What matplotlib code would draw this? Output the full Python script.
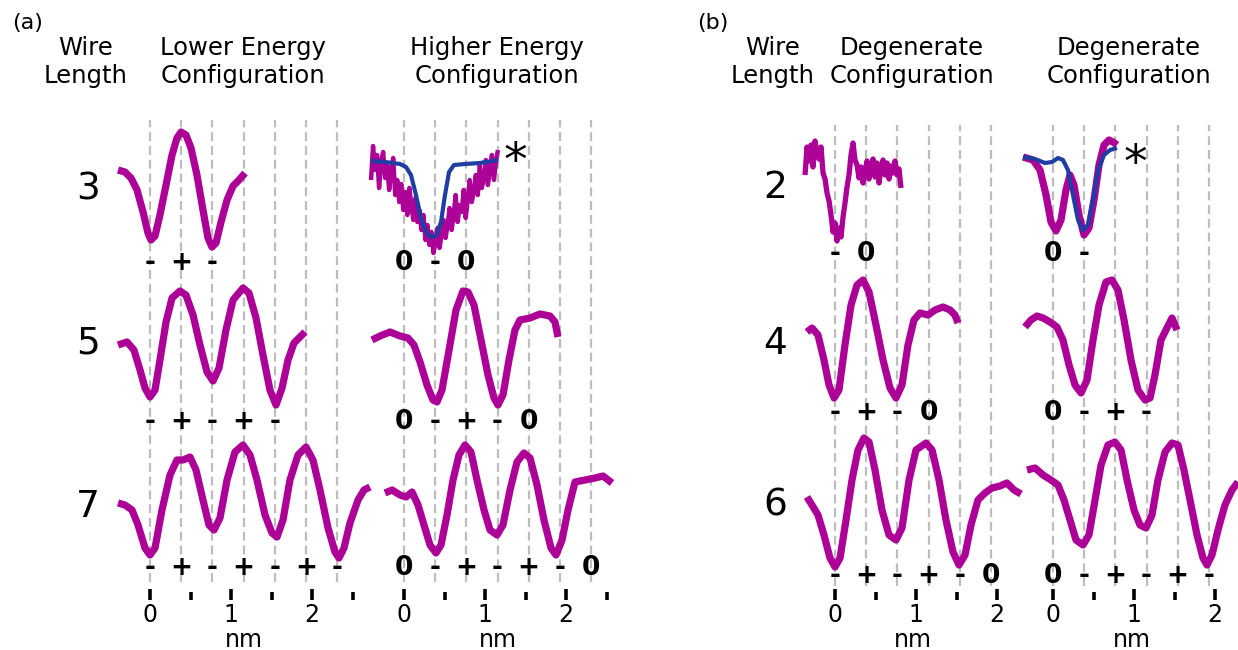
import numpy as np
import matplotlib
matplotlib.use("Agg")
import matplotlib.pyplot as plt

plt.rcParams['font.family'] = ['DejaVu Sans']

# ---------------- data (x in nm, y = profile height, a.u.) ----------------
# Panel (a), lower-energy configurations
a_low3_x = [-0.395, -0.309, -0.235, -0.160, -0.086, -0.025, 0.012, 0.062, 0.123, 0.198, 0.272, 0.333, 0.383,
            0.444, 0.506, 0.580, 0.654, 0.716, 0.765, 0.815, 0.877, 0.951, 1.025, 1.099, 1.173]
a_low3_y = [80, 78, 72, 60, 38, 17, 10, 14, 35, 65, 95, 112, 118, 115, 102, 75, 40, 12, 3, 7, 28, 50, 64, 70, 77]

a_low5_x = [-0.395, -0.284, -0.198, -0.123, -0.062, 0.0, 0.062, 0.123, 0.198, 0.272, 0.370, 0.444, 0.531, 0.617,
            0.704, 0.778, 0.852, 0.938, 1.025, 1.148, 1.222, 1.309, 1.395, 1.481, 1.556, 1.630, 1.704, 1.778,
            1.852, 1.914]
a_low5_y = [65, 68, 60, 40, 22, 13, 20, 50, 88, 112, 119, 115, 95, 65, 38, 29, 42, 80, 110, 122, 117, 92, 55, 20,
            5, 22, 50, 67, 73, 78]

a_low7_x = [-0.395, -0.309, -0.222, -0.148, -0.062, 0.0, 0.062, 0.148, 0.247, 0.333, 0.407, 0.494, 0.568, 0.654,
            0.728, 0.790, 0.864, 0.951, 1.049, 1.148, 1.235, 1.321, 1.420, 1.506, 1.568, 1.642, 1.728, 1.827,
            1.926, 2.012, 2.099, 2.198, 2.284, 2.333, 2.395, 2.469, 2.568, 2.642, 2.716]
a_low7_y = [57, 55, 50, 35, 12, 5, 12, 50, 85, 100, 100, 103, 90, 60, 35, 30, 42, 80, 108, 115, 105, 80, 45, 27,
            23, 40, 80, 105, 113, 100, 70, 32, 8, 2, 12, 37, 60, 70, 73]

# Panel (a), higher-energy configurations
a_high3_y = [70, 104, 80, 95, 62, 88, 98, 72, 85, 60, 78, 92, 55, 70, 48, 66, 40, 58, 35, 62, 45, 30, 52, 28, 40,
             20, 35, 10, 25, 5, 18, -3, 8, 22, 2, 15, 30, 12, 25, 42, 20, 35, 55, 28, 45, 38, 60, 32, 50, 70, 48,
             58, 75, 55, 85, 62, 72, 90, 65, 80, 95, 70, 88, 100]
a_high3_xrange = (-0.407, 1.160)
a_high3_fit_x = [-0.407, -0.235, -0.049, 0.025, 0.086, 0.148, 0.210, 0.272, 0.333, 0.395, 0.457, 0.506, 0.556,
                 0.617, 0.753, 0.938, 1.160]
a_high3_fit_y = [89, 88, 86, 83, 75, 55, 32, 18, 13, 14, 28, 55, 78, 85, 86, 87, 90]

a_high5_x = [-0.395, -0.296, -0.173, -0.049, 0.049, 0.123, 0.198, 0.284, 0.358, 0.407, 0.469, 0.556, 0.642, 0.728,
             0.790, 0.864, 0.951, 1.037, 1.111, 1.160, 1.222, 1.296, 1.370, 1.432, 1.556, 1.679, 1.802, 1.864,
             1.901]
a_high5_y = [70, 74, 78, 74, 72, 65, 48, 25, 10, 8, 20, 60, 100, 119, 118, 105, 70, 35, 12, 5, 15, 50, 80, 90, 92,
             96, 94, 88, 73]

a_high7_x = [-0.235, -0.148, -0.049, 0.025, 0.099, 0.173, 0.247, 0.321, 0.395, 0.457, 0.531, 0.605, 0.679, 0.753,
             0.827, 0.901, 0.988, 1.062, 1.148, 1.222, 1.309, 1.395, 1.481, 1.556, 1.642, 1.728, 1.815, 1.877,
             1.951, 2.025, 2.111, 2.235, 2.358, 2.457, 2.568]
a_high7_y = [67, 70, 65, 63, 68, 55, 35, 15, 7, 15, 45, 80, 105, 115, 108, 80, 50, 30, 25, 35, 70, 98, 107, 102,
             75, 40, 12, 5, 20, 50, 78, 80, 82, 84, 77]

# Panel (b), degenerate configurations (left column)
b_l2_y = [70, 98, 84, 100, 78, 104, 92, 86, 98, 72, 66, 52, 44, 30, 13, 22, 4, 17, 8, 28, 42, 58, 70, 90, 102,
          85, 80, 67, 78, 62, 74, 84, 66, 78, 86, 68, 82, 62, 77, 85, 70, 82, 66, 79, 72, 84, 70, 76, 57]
b_l2_xrange = (-0.370, 0.815)

b_l4_x = [-0.346, -0.284, -0.210, -0.136, -0.074, -0.012, 0.049, 0.123, 0.198, 0.272, 0.346, 0.420, 0.506, 0.593,
          0.679, 0.753, 0.827, 0.901, 0.975, 1.049, 1.148, 1.235, 1.333, 1.420, 1.481, 1.519]
b_l4_y = [73, 77, 70, 45, 20, 7, 15, 60, 100, 120, 125, 113, 80, 45, 17, 7, 20, 60, 85, 92, 90, 95, 98, 95, 90, 82]

b_l6_x = [-0.346, -0.284, -0.210, -0.136, -0.062, 0.0, 0.062, 0.136, 0.210, 0.284, 0.358, 0.420, 0.494, 0.580,
          0.667, 0.753, 0.827, 0.914, 1.000, 1.123, 1.198, 1.284, 1.370, 1.457, 1.531, 1.605, 1.679, 1.765,
          1.852, 1.938, 2.037, 2.123, 2.210, 2.296]
b_l6_y = [73, 65, 55, 35, 12, 3, 12, 50, 90, 120, 132, 128, 100, 60, 35, 30, 42, 90, 120, 127, 120, 90, 50, 18, 5,
          15, 45, 70, 77, 82, 84, 87, 80, 76]

# Panel (b), degenerate configurations (right column)
b_r2_x = [-0.370, -0.247, -0.160, -0.086, -0.025, 0.037, 0.099, 0.160, 0.210, 0.259, 0.321, 0.383, 0.444, 0.506,
          0.568, 0.630, 0.691, 0.741, 0.790]
b_r2_y = [88, 85, 75, 50, 23, 14, 25, 55, 70, 60, 30, 10, 17, 45, 80, 100, 105, 103, 100]
b_r2_fit_x = [-0.370, -0.222, -0.099, -0.012, 0.062, 0.123, 0.185, 0.247, 0.309, 0.370, 0.432, 0.494, 0.556,
              0.630, 0.704, 0.790]
b_r2_fit_y = [88, 86, 82, 83, 87, 85, 75, 50, 25, 15, 20, 45, 75, 90, 95, 97]

b_r4_x = [-0.346, -0.272, -0.198, -0.123, -0.037, 0.049, 0.123, 0.198, 0.272, 0.346, 0.420, 0.494, 0.568, 0.654,
          0.728, 0.802, 0.877, 0.963, 1.049, 1.136, 1.198, 1.259, 1.333, 1.407, 1.469, 1.531]
b_r4_y = [78, 85, 89, 87, 83, 78, 65, 40, 20, 12, 25, 65, 100, 123, 125, 115, 85, 45, 15, 5, 7, 30, 65, 77, 87, 75]

b_r6_x = [-0.321, -0.222, -0.123, -0.025, 0.062, 0.136, 0.210, 0.284, 0.370, 0.444, 0.519, 0.593, 0.679, 0.765,
          0.840, 0.914, 1.000, 1.074, 1.148, 1.222, 1.296, 1.383, 1.469, 1.543, 1.617, 1.704, 1.778, 1.852,
          1.901, 1.963, 2.037, 2.123, 2.210, 2.284]
b_r6_y = [100, 102, 95, 90, 85, 70, 50, 30, 25, 35, 70, 105, 125, 128, 120, 90, 60, 45, 42, 55, 90, 118, 127, 125,
          100, 65, 35, 12, 5, 15, 40, 65, 80, 88]

# labels
wire_lengths_a = ["3", "5", "7"]
wire_lengths_b = ["2", "4", "6"]
signs_a_low = ["-+-", "-+-+-", "-+-+-+-"]
signs_a_high = ["0-0", "0-+-0", "0-+-+-0"]
signs_b_left = ["-0", "-+-0", "-+-+-0"]
signs_b_right = ["0-", "0-+-", "0-+-+-"]
site_spacing = 0.385  # nm
major_ticks = [0, 1, 2]

# ---------------- styling ----------------
MAG = "#AC0096"
BLUE = "#1F3DA3"
GRID = "#BDBDBD"
W, H = 1238, 650
PX_PER_NM = 81.0

fig = plt.figure(figsize=(W / 100, H / 100), dpi=100)


def make_ax(x0, n_lines, minor, grid_top, grid_bot, nm_x):
    L, R = x0 - 40, x0 + 225
    ax = fig.add_axes([L / W, 50 / H, (R - L) / W, 600 / H])
    ax.set_xlim((L - x0) / PX_PER_NM, (R - x0) / PX_PER_NM)
    ax.set_ylim(0, 600)
    for s in ax.spines.values():
        s.set_visible(False)
    ax.yaxis.set_visible(False)
    ax.patch.set_alpha(0)
    ax.set_xticks(major_ticks)
    ax.set_xticks(minor, minor=True)
    ax.tick_params(axis='x', which='major', direction='in', length=8, width=2.6,
                   labelsize=17, pad=2)
    ax.tick_params(axis='x', which='minor', direction='in', length=6, width=2.6)
    for k in range(n_lines):
        ax.plot([k * site_spacing] * 2, [grid_bot, grid_top], color=GRID, lw=1.6,
                dashes=(4, 2.2), zorder=1)
    fig.text(nm_x / W, 1 - 640 / H, "nm", fontsize=17, ha='center', va='center')
    return ax


ax_al = make_ax(150, 7, [0.5, 1.5, 2.5], 480, 18, 244)
ax_ar = make_ax(404, 7, [0.5, 1.5, 2.5], 480, 18, 498)
ax_bl = make_ax(835, 6, [0.5, 1.5], 475, 14, 913)
ax_br = make_ax(1053, 6, [0.5, 1.5], 475, 14, 1132)

base_a = [350, 190, 40]
base_b = [355, 195, 30]
sign_y_a = [337, 178, 32]
sign_y_b = [346, 187, 24]
LW = 5.2


def trace(ax, x, y, base, color=MAG, lw=LW, z=3):
    ax.plot(x, np.asarray(y) + base, color=color, lw=lw, solid_capstyle='butt',
            solid_joinstyle='round', zorder=z, clip_on=False)


# panel a left
trace(ax_al, a_low3_x, a_low3_y, base_a[0])
trace(ax_al, a_low5_x, a_low5_y, base_a[1])
trace(ax_al, a_low7_x, a_low7_y, base_a[2])
# panel a right
xg = np.linspace(a_high3_xrange[0], a_high3_xrange[1], len(a_high3_y))
trace(ax_ar, xg, a_high3_y, base_a[0], lw=3.2)
trace(ax_ar, a_high3_fit_x, a_high3_fit_y, base_a[0], color=BLUE, lw=3.0, z=4)
trace(ax_ar, a_high5_x, a_high5_y, base_a[1])
trace(ax_ar, a_high7_x, a_high7_y, base_a[2])
# panel b left
xg = np.linspace(b_l2_xrange[0], b_l2_xrange[1], len(b_l2_y))
trace(ax_bl, xg, b_l2_y, base_b[0], lw=3.8)
trace(ax_bl, b_l4_x, b_l4_y, base_b[1])
trace(ax_bl, b_l6_x, b_l6_y, base_b[2])
# panel b right
trace(ax_br, b_r2_x, b_r2_y, base_b[0])
trace(ax_br, b_r2_fit_x, b_r2_fit_y, base_b[0], color=BLUE, lw=3.0, z=4)
trace(ax_br, b_r4_x, b_r4_y, base_b[1])
trace(ax_br, b_r6_x, b_r6_y, base_b[2])


def signs(ax, rows, ys):
    for s, yy in zip(rows, ys):
        for k, ch in enumerate(s):
            ax.text(k * site_spacing, yy, ch, fontsize=19, fontweight='bold',
                    ha='center', va='center', zorder=5)


signs(ax_al, signs_a_low, sign_y_a)
signs(ax_ar, signs_a_high, sign_y_a)
signs(ax_bl, signs_b_left, sign_y_b)
signs(ax_br, signs_b_right, sign_y_b)

# asterisks for fitted (blue) curves
ax_ar.text((515 - 404) / PX_PER_NM, 600 - 162, "*", fontsize=34, ha='center', va='center')
ax_br.text((1135 - 1053) / PX_PER_NM, 600 - 165, "*", fontsize=34, ha='center', va='center')

# row labels
for lab, yp in zip(wire_lengths_a, [189, 343, 507]):
    fig.text(88 / W, 1 - yp / H, lab, fontsize=27, ha='center', va='center')
for lab, yp in zip(wire_lengths_b, [188, 344, 506]):
    fig.text(775 / W, 1 - yp / H, lab, fontsize=27, ha='center', va='center')

# headers
hdr = dict(fontsize=17.5, ha='center', va='center', linespacing=1.22, multialignment='center')
fig.text(86 / W, 1 - 62 / H, "Wire\nLength", **hdr)
fig.text(243 / W, 1 - 62 / H, "Lower Energy\nConfiguration", **hdr)
fig.text(497 / W, 1 - 62 / H, "Higher Energy\nConfiguration", **hdr)
fig.text(773 / W, 1 - 62 / H, "Wire\nLength", **hdr)
fig.text(912 / W, 1 - 62 / H, "Degenerate\nConfiguration", **hdr)
fig.text(1129 / W, 1 - 62 / H, "Degenerate\nConfiguration", **hdr)
fig.text(28 / W, 1 - 23 / H, "(a)", fontsize=16, ha='center', va='center')
fig.text(713 / W, 1 - 23 / H, "(b)", fontsize=16, ha='center', va='center')

fig.savefig("out.png", dpi=100)
